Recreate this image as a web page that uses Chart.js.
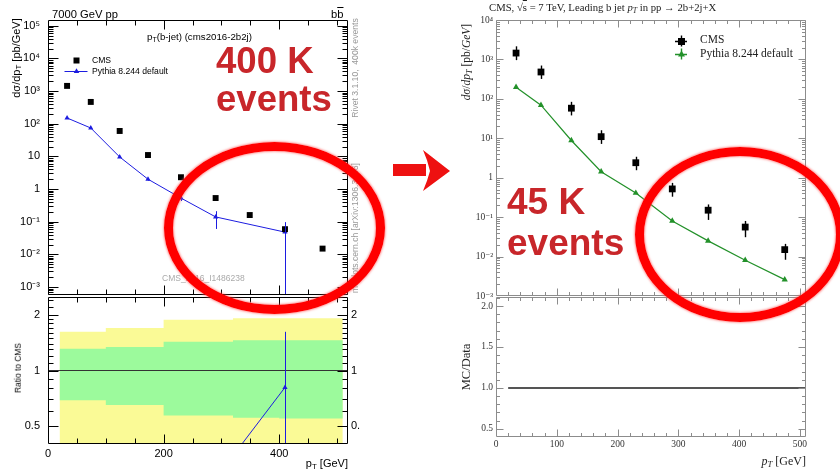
<!DOCTYPE html>
<html><head><meta charset="utf-8">
<script src="https://cdn.jsdelivr.net/npm/chart.js@4.4.1/dist/chart.umd.min.js"></script>
<style>
html,body{margin:0;padding:0;background:#fff;}
#wrap{position:relative;width:840px;height:469px;overflow:hidden;background:#fff;}
canvas{position:absolute;}
.t{position:absolute;white-space:nowrap;line-height:1;}
.sans{font-family:"Liberation Sans",Arial,sans-serif;color:#000;}
.serif{font-family:"Liberation Serif","DejaVu Serif",serif;color:#222;}
.rot{transform:translate(-50%,-50%) rotate(-90deg);}
.red{position:absolute;font-family:"Liberation Sans",Arial,sans-serif;font-weight:bold;color:#c8262a;line-height:1;white-space:nowrap;}
.ell{position:absolute;box-sizing:border-box;border:9px solid #f00;border-radius:50%;
  box-shadow:0 0 2px 1px rgba(255,90,90,.55), inset 0 0 2px 1px rgba(255,90,90,.55);}
sub{font-size:72%;vertical-align:-0.25em;line-height:0;}
</style></head>
<body>
<div id="wrap">
  <canvas id="l1" width="360" height="296" style="left:0;top:0;width:360px;height:296px"></canvas>
  <canvas id="l2" width="360" height="173" style="left:0;top:296px;width:360px;height:173px"></canvas>
  <canvas id="r1" width="400" height="306" style="left:440px;top:0;width:400px;height:306px"></canvas>
  <canvas id="r2" width="400" height="172" style="left:440px;top:297px;width:400px;height:172px"></canvas>

  <!-- left plot texts -->
  <div class="t sans" style="left:52px;top:8.5px;font-size:11.2px">7000 GeV pp</div>
  <div class="t sans" style="left:331px;top:8.5px;font-size:11.2px">b<span style="text-decoration:overline">b</span></div>
  <div class="t sans" style="left:147px;top:31.8px;font-size:9.7px">p<sub>T</sub>(b-jet) (cms2016-2b2j)</div>
  <div class="t sans" style="left:92px;top:55.5px;font-size:8.6px">CMS</div>
  <div class="t sans" style="left:92px;top:66.7px;font-size:8.6px">Pythia 8.244 default</div>
  <div class="t sans rot" style="left:16px;top:58px;font-size:11px">dσ/dp<sub>T</sub> [pb/GeV]</div>
  <div class="t sans" style="left:162px;top:273.8px;font-size:8.5px;color:#aaa">CMS_2016_I1486238</div>
  <div class="t sans rot" style="left:355px;top:68px;font-size:8.6px;color:#999">Rivet 3.1.10, &nbsp;400k events</div>
  <div class="t sans rot" style="left:355px;top:228px;font-size:8.6px;color:#999">mcplots.cern.ch [arXiv:1306.3436]</div>
  <div class="t sans rot" style="left:18px;top:368px;font-size:8.4px">Ratio to CMS</div>
  <div class="t sans" style="right:492px;top:457.7px;font-size:11px">p<sub>T</sub> [GeV]</div>

  <!-- right plot texts -->
  <div class="t serif" style="left:489px;top:1.7px;font-size:10.7px">CMS, √<span style="text-decoration:overline">s</span> = 7 TeV, Leading b jet <i>p<sub>T</sub></i> in pp → 2b+2j+X</div>
  <div class="t serif" style="left:700px;top:34.4px;font-size:11.5px">CMS</div>
  <div class="t serif" style="left:700px;top:47.7px;font-size:11.5px">Pythia 8.244 default</div>
  <div class="t serif rot" style="left:467px;top:62px;font-size:11.5px"><i>dσ</i>/<i>dp<sub>T</sub></i> [pb/<i>GeV</i>]</div>
  <div class="t serif rot" style="left:466px;top:367px;font-size:12.5px">MC/Data</div>
  <div class="t serif" style="right:34px;top:455px;font-size:12px"><i>p<sub>T</sub></i> [GeV]</div>

  <!-- annotations -->
  <div class="red" style="left:216px;top:42.5px;font-size:36.6px">400 K</div>
  <div class="red" style="left:216px;top:81px;font-size:36.6px">events</div>
  <div class="red" style="left:507px;top:182.7px;font-size:37px">45 K</div>
  <div class="red" style="left:507px;top:223.7px;font-size:37px">events</div>
  <div class="ell" style="left:164px;top:142px;width:221px;height:172px"></div>
  <div class="ell" style="left:635px;top:147px;width:210px;height:175px"></div>
  <div style="position:absolute;left:393px;top:164px;width:33px;height:12px;background:#ee1111"></div>
  <div style="position:absolute;left:421px;top:149px;width:30px;height:43px;background:#ee1111;
    clip-path:polygon(6.7% 2.3%, 96.7% 51%, 6.7% 97.7%, 20% 74%, 30% 51%, 20% 26%)"></div>
</div>

<script>
// ---------------- data ----------------
const binCentres = [33, 74, 124, 173, 230, 290, 349, 410, 475];

// left plot: Pythia 8.244, 400k events
const cms400 = [1440, 465, 60, 11, 2.3, 0.53, 0.16, 0.059, 0.015];
const py400 = [150, 74, 9.6, 2.0, 0.53, 0.14, null, 0.048, null];
const py400Lo = [null, null, null, 1.8, 0.43, 0.06, null, 0.00001, null];
const py400Hi = [null, null, null, 2.2, 0.64, 0.21, null, 0.097, null];
const ratio400 = [0.10, 0.16, 0.16, 0.18, 0.23, 0.26, null, 0.81, null];
const ratio400Lo = [null, null, null, null, null, null, null, 0.01, null];
const ratio400Hi = [null, null, null, null, null, null, null, 1.62, null];
const bandEdges = [20, 100, 200, 320, 400, 440, 510];
const band2Hi = [1.66, 1.62, 1.70, 1.88, 1.92, 1.92, 1.92];
const band1Hi = [1.32, 1.31, 1.34, 1.43, 1.46, 1.46, 1.46];
const band1Lo = [0.675, 0.69, 0.65, 0.57, 0.555, 0.55, 0.55];
const band2Lo = [0.33, 0.34, 0.31, 0.27, 0.26, 0.26, 0.26];

// right plot: Pythia 8.244, 45k events
const cms45 = [1450, 480, 58, 11, 2.4, 0.52, 0.15, 0.056, 0.015];
const cms45Lo = [960, 320, 38, 7.2, 1.55, 0.33, 0.085, 0.031, 0.0083];
const cms45Hi = [2150, 700, 84, 16, 3.4, 0.74, 0.21, 0.080, 0.021];
const py45 = [198, 69, 8.8, 1.42, 0.41, 0.080, 0.025, 0.0081, 0.0026];
const ratio45 = [0.14, 0.14, 0.15, 0.13, 0.17, 0.15, 0.17, 0.14, 0.17];
const dataRatioEdges = [20, 510];
const dataRatio = [1, 1];

// tick labels
const leftDecades = [1e-3, 1e-2, 1e-1, 1, 10, 1e2, 1e3, 1e4, 1e5];
const leftDecadeLabels = ['10⁻³', '10⁻²', '10⁻¹', '1', '10', '10²', '10³', '10⁴', '10⁵'];
const leftRatioTicks = [0.5, 1, 2];
const leftRatioLabels = ['0.5', '1', '2'];
const leftXTicks = [0, 200, 400];
const leftXLabels = ['0', '200', '400'];
const rightDecades = [1e-3, 1e-2, 1e-1, 1, 10, 1e2, 1e3, 1e4];
const rightDecadeLabels = ['10⁻³', '10⁻²', '10⁻¹', '1', '10¹', '10²', '10³', '10⁴'];
const rightRatioTicks = [0.5, 1.0, 1.5, 2.0];
const rightRatioLabels = ['0.5', '1.0', '1.5', '2.0'];
const rightXTicks = [0, 100, 200, 300, 400, 500];
const rightXLabels = ['0', '100', '200', '300', '400', '500'];

// ---------------- helpers ----------------
const SANS = '"Liberation Sans", Arial, sans-serif';
const SERIF = '"Liberation Serif", "DejaVu Serif", serif';
const pts = (xs, ys) => xs.map((x, i) => ({x, y: ys[i]}));

function logTickMarks(min, max, majLen, minLen) {
  const out = [];
  for (let e = Math.floor(Math.log10(min)); e <= Math.ceil(Math.log10(max)); e++) {
    for (let k = 1; k <= 9; k++) {
      const v = k * Math.pow(10, e);
      if (v >= min && v <= max) out.push([v, k === 1 ? majLen : minLen]);
    }
  }
  return out;
}
function linTickMarks(start, end, step, majorEvery, majLen, minLen) {
  const out = [];
  for (let v = start; v <= end + 1e-9; v += step) {
    const r = Math.round(v * 1000) / 1000;
    const isMaj = Math.abs(r / majorEvery - Math.round(r / majorEvery)) < 1e-6;
    out.push([r, isMaj ? majLen : minLen]);
  }
  return out;
}
const zeroPad = s => { s.paddingTop = 0; s.paddingBottom = 0; s.paddingLeft = 0; s.paddingRight = 0; };
const fixW = w => s => { s.width = w; zeroPad(s); };
const fixH = h => s => { s.height = h; zeroPad(s); };

const framePlugin = {
  id: 'frame',
  afterDatasetsDraw(chart, args, o) {
    const {ctx, chartArea: a, scales} = chart;
    const xs = scales.x, ys = scales.y;
    ctx.save();
    ctx.strokeStyle = o.color; ctx.lineWidth = o.lw || 1;
    const L = Math.round(a.left) + 0.5, R = Math.round(a.right) - 0.5;
    const T = Math.round(a.top) + 0.5, B = Math.round(a.bottom) - 0.5;
    ctx.beginPath();
    ctx.moveTo(L, T); ctx.lineTo(R, T); ctx.lineTo(R, B); ctx.lineTo(L, B); ctx.closePath();
    ctx.stroke();
    ctx.beginPath();
    (o.x || []).forEach(([v, len]) => {
      const p = Math.round(xs.getPixelForValue(v)) + 0.5;
      if (p < L - 0.1 || p > R + 0.1) return;
      if (o.bottom !== false) { ctx.moveTo(p, B); ctx.lineTo(p, B - len); }
      if (o.top !== false) { ctx.moveTo(p, T); ctx.lineTo(p, T + len); }
    });
    (o.y || []).forEach(([v, len]) => {
      const p = Math.round(ys.getPixelForValue(v)) + 0.5;
      if (p < T - 0.1 || p > B + 0.1) return;
      ctx.moveTo(L, p); ctx.lineTo(L + len, p);
      ctx.moveTo(R, p); ctx.lineTo(R - len, p);
    });
    ctx.stroke();
    ctx.restore();
  }
};

const errPlugin = {
  id: 'errbars',
  afterDatasetsDraw(chart) {
    const {ctx, chartArea: a, scales} = chart;
    const xs = scales.x, ys = scales.y;
    ctx.save();
    ctx.beginPath(); ctx.rect(a.left, a.top, a.right - a.left, a.bottom - a.top); ctx.clip();
    chart.data.datasets.forEach(ds => {
      if (!ds.errLo) return;
      ctx.strokeStyle = ds.errColor || ds.borderColor;
      ctx.lineWidth = ds.errWidth || 1;
      ds.data.forEach((p, i) => {
        const lo = ds.errLo[i], hi = ds.errHi[i];
        if (lo == null || hi == null || p.y == null) return;
        const px = Math.round(xs.getPixelForValue(p.x)) + 0.5;
        ctx.beginPath();
        ctx.moveTo(px, ys.getPixelForValue(lo));
        ctx.lineTo(px, ys.getPixelForValue(hi));
        ctx.stroke();
      });
    });
    ctx.restore();
  }
};

const markPlugin = {
  id: 'marks',
  afterDraw(chart, args, o) {
    const ctx = chart.ctx;
    (o.items || []).forEach(m => {
      ctx.save();
      ctx.fillStyle = m.color; ctx.strokeStyle = m.color; ctx.lineWidth = m.lw || 1;
      ctx.beginPath();
      if (m.h) { ctx.moveTo(m.x - m.h, m.y + 0.5); ctx.lineTo(m.x + m.h, m.y + 0.5); }
      if (m.v) { ctx.moveTo(m.x + 0.5, m.y - m.v); ctx.lineTo(m.x + 0.5, m.y + m.v); }
      ctx.stroke();
      if (m.shape === 'square') ctx.fillRect(m.x - m.s / 2 + 0.5, m.y - m.s / 2 + 0.5, m.s, m.s);
      if (m.shape === 'triangle') {
        const r = m.s;
        ctx.beginPath();
        ctx.moveTo(m.x + 0.5, m.y - r + 0.5);
        ctx.lineTo(m.x + r * 0.866 + 0.5, m.y + r * 0.5 + 0.5);
        ctx.lineTo(m.x - r * 0.866 + 0.5, m.y + r * 0.5 + 0.5);
        ctx.closePath(); ctx.fill();
      }
      ctx.restore();
    });
  }
};

const base = {responsive: false, animation: false, devicePixelRatio: 1, events: []};
const noGrid = {display: false, drawTicks: false};
const noBorder = {display: false};
const setTicks = arr => s => { s.ticks = arr.map(v => ({value: v})); };

// ---------------- left main ----------------
new Chart(document.getElementById('l1'), {
  type: 'line',
  data: {datasets: [
    {label: 'CMS', data: pts(binCentres, cms400), showLine: false, pointStyle: 'rect',
     pointRadius: 4.2, pointBorderWidth: 0, backgroundColor: '#000', borderColor: '#000'},
    {label: 'Pythia 8.244 default', data: pts(binCentres, py400), spanGaps: true,
     borderColor: '#1c1ce0', backgroundColor: '#1c1ce0', borderWidth: 1, pointStyle: 'triangle',
     pointRadius: 3, pointBorderWidth: 0, errLo: py400Lo, errHi: py400Hi}
  ]},
  options: {...base,
    layout: {autoPadding: false, padding: {top: 20, right: 12, bottom: 1, left: 0}},
    plugins: {legend: {display: false}, tooltip: {enabled: false},
      frame: {color: '#000', lw: 1, x: linTickMarks(50, 500, 50, 200, 9, 5), y: logTickMarks(5.7e-4, 1.5e5, 10, 5)},
      marks: {items: [
        {x: 76, y: 60, shape: 'square', s: 6, color: '#000'},
        {x: 76, y: 71, shape: 'triangle', s: 3.2, h: 11.5, color: '#1c1ce0'}
      ]}},
    scales: {
      x: {type: 'linear', min: 0, max: 519, display: false},
      y: {type: 'logarithmic', min: 5.7e-4, max: 1.5e5, afterBuildTicks: setTicks(leftDecades),
          afterFit: fixW(48), grid: noGrid, border: noBorder,
          ticks: {autoSkip: false, padding: 8, color: '#000', font: {family: SANS, size: 11},
                  callback: (v, i) => leftDecadeLabels[i]}}
    }
  },
  plugins: [errPlugin, framePlugin, markPlugin]
});

// ---------------- left ratio ----------------
new Chart(document.getElementById('l2'), {
  type: 'line',
  data: {datasets: [
    {label: 'Pythia/CMS', data: pts(binCentres, ratio400), spanGaps: true, borderColor: '#1c1ce0',
     backgroundColor: '#1c1ce0', borderWidth: 1, pointStyle: 'triangle', pointRadius: 3, pointBorderWidth: 0,
     errLo: ratio400Lo, errHi: ratio400Hi},
    {label: 'unity', data: pts([0, 519], [1, 1]), borderColor: '#333', borderWidth: 1.2, pointRadius: 0},
    {label: 'green', data: pts(bandEdges, band1Hi), stepped: 'after', borderWidth: 0, pointRadius: 0,
     fill: '+1', backgroundColor: '#9cfa9c', borderColor: 'rgba(0,0,0,0)'},
    {label: 'greenLo', data: pts(bandEdges, band1Lo), stepped: 'after', borderWidth: 0, pointRadius: 0,
     borderColor: 'rgba(0,0,0,0)'},
    {label: 'yellow', data: pts(bandEdges, band2Hi), stepped: 'after', borderWidth: 0, pointRadius: 0,
     fill: '+1', backgroundColor: '#fafa96', borderColor: 'rgba(0,0,0,0)'},
    {label: 'yellowLo', data: pts(bandEdges, band2Lo), stepped: 'after', borderWidth: 0, pointRadius: 0,
     borderColor: 'rgba(0,0,0,0)'}
  ]},
  options: {...base,
    layout: {autoPadding: false, padding: {top: 1, right: 0, bottom: 0, left: 0}},
    plugins: {legend: {display: false}, tooltip: {enabled: false},
      frame: {color: '#000', lw: 1, x: linTickMarks(50, 500, 50, 200, 9, 5),
        y: [[0.4,5],[0.5,10],[0.6,5],[0.7,5],[0.8,5],[0.9,5],[1,10],[1.1,5],[1.2,5],[1.3,5],[1.4,5],[1.5,5],
            [1.6,5],[1.7,5],[1.8,5],[1.9,5],[2,10],[2.2,5],[2.4,5]]}},
    scales: {
      x: {type: 'linear', min: 0, max: 519, afterBuildTicks: setTicks(leftXTicks),
          afterFit: fixH(25), grid: noGrid, border: noBorder,
          ticks: {autoSkip: false, maxRotation: 0, padding: 3, color: '#000', font: {family: SANS, size: 11},
                  callback: (v, i) => leftXLabels[i]}},
      y: {type: 'logarithmic', min: 0.4, max: 2.5, afterBuildTicks: setTicks(leftRatioTicks),
          afterFit: fixW(48), grid: noGrid, border: noBorder,
          ticks: {autoSkip: false, padding: 8, color: '#000', font: {family: SANS, size: 11},
                  callback: (v, i) => leftRatioLabels[i]}},
      y2: {type: 'logarithmic', position: 'right', min: 0.4, max: 2.5, afterBuildTicks: setTicks(leftRatioTicks),
          afterFit: fixW(12), grid: noGrid, border: noBorder,
          ticks: {autoSkip: false, padding: 3, color: '#000', font: {family: SANS, size: 11},
                  callback: (v, i) => leftRatioLabels[i]}}
    }
  },
  plugins: [errPlugin, framePlugin]
});

// ---------------- right main ----------------
const GREEN = '#23912a';
new Chart(document.getElementById('r1'), {
  type: 'line',
  data: {datasets: [
    {label: 'CMS', data: pts(binCentres, cms45), showLine: false, pointStyle: 'rect', pointRadius: 4.8,
     pointBorderWidth: 0, backgroundColor: '#000', borderColor: '#000',
     errLo: cms45Lo, errHi: cms45Hi, errWidth: 1.4},
    {label: 'Pythia 8.244 default', data: pts(binCentres, py45), borderColor: GREEN, backgroundColor: GREEN,
     borderWidth: 1.2, pointStyle: 'triangle', pointRadius: 3.6, pointBorderWidth: 0}
  ]},
  options: {...base,
    layout: {autoPadding: false, padding: {top: 20, right: 34, bottom: 10, left: 0}},
    plugins: {legend: {display: false}, tooltip: {enabled: false},
      frame: {color: '#8c8c8c', lw: 1, x: linTickMarks(20, 500, 20, 100, 7, 3.5), y: logTickMarks(1e-3, 1e4, 7, 3.5)},
      marks: {items: [
        {x: 241, y: 41, shape: 'square', s: 7, h: 6, v: 5.5, lw: 1.4, color: '#000'},
        {x: 241, y: 54, shape: 'triangle', s: 4, h: 6, v: 5.5, lw: 1.4, color: GREEN}
      ]}},
    scales: {
      x: {type: 'linear', min: 0, max: 510, display: false},
      y: {type: 'logarithmic', min: 1e-3, max: 1e4, afterBuildTicks: setTicks(rightDecades),
          afterFit: fixW(56), grid: noGrid, border: noBorder,
          ticks: {autoSkip: false, padding: 3, color: '#333', font: {family: SERIF, size: 9.5},
                  callback: (v, i) => rightDecadeLabels[i]}}
    }
  },
  plugins: [errPlugin, framePlugin, markPlugin]
});

// ---------------- right ratio ----------------
new Chart(document.getElementById('r2'), {
  type: 'line',
  data: {datasets: [
    {label: 'MC/Data', data: pts(binCentres, ratio45), borderColor: GREEN, backgroundColor: GREEN,
     borderWidth: 1.2, pointStyle: 'triangle', pointRadius: 3.6, pointBorderWidth: 0},
    {label: 'Data', data: pts(dataRatioEdges, dataRatio), borderColor: '#555', borderWidth: 2, pointRadius: 0}
  ]},
  options: {...base,
    layout: {autoPadding: false, padding: {top: 0, right: 34, bottom: 0, left: 0}},
    plugins: {legend: {display: false}, tooltip: {enabled: false},
      frame: {color: '#8c8c8c', lw: 1, x: linTickMarks(20, 500, 20, 100, 7, 3.5), y: linTickMarks(0.4, 2.1, 0.1, 0.5, 7, 3.5)}},
    scales: {
      x: {type: 'linear', min: 0, max: 510, afterBuildTicks: setTicks(rightXTicks),
          afterFit: fixH(32), grid: noGrid, border: noBorder,
          ticks: {autoSkip: false, maxRotation: 0, padding: 2, color: '#333', font: {family: SERIF, size: 9.5},
                  callback: (v, i) => rightXLabels[i]}},
      y: {type: 'linear', min: 0.4, max: 2.11, afterBuildTicks: setTicks(rightRatioTicks),
          afterFit: fixW(56), grid: noGrid, border: noBorder,
          ticks: {autoSkip: false, padding: 3, color: '#333', font: {family: SERIF, size: 9.5},
                  callback: (v, i) => rightRatioLabels[i]}}
    }
  },
  plugins: [framePlugin]
});
</script>
</body></html>
